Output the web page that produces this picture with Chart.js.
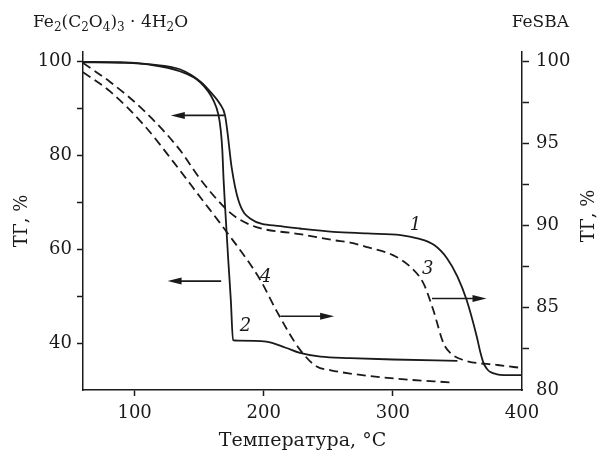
<!DOCTYPE html>
<html>
<head>
<meta charset="utf-8">
<script src="https://cdn.jsdelivr.net/npm/chart.js@4.4.1/dist/chart.umd.min.js"></script>
<style>
  body { margin: 0; background: #fff; }
</style>
</head>
<body>
<canvas id="tgChart" width="600" height="453"></canvas>
<script>
// curve 1 - FeSBA, solid (right axis)
const temp1 = [60, 89, 112, 135, 151, 159, 166, 170, 172, 175, 180.5, 190, 213, 228, 254, 280, 306, 319, 332, 342, 350, 357, 365, 367.7, 370.3, 372.9, 375.5, 380.7, 386, 400];
const tg1 = [99.95, 99.93, 99.8, 99.5, 98.75, 98.1, 97.4, 96.7, 95.6, 93.6, 91.5, 90.4, 89.96, 89.82, 89.62, 89.52, 89.42, 89.22, 88.81, 88.0, 86.9, 85.5, 83.24, 82.31, 81.62, 81.28, 81.09, 80.95, 80.91, 80.9];

// curve 2 - Fe oxalate, solid (left axis)
const temp2 = [60, 89, 112, 135, 151, 161, 165, 166.7, 167.9, 168.9, 170.2, 172.5, 174.5, 176.2, 180, 202, 217, 228, 244, 267, 300, 350];
const tg2 = [99.8, 99.7, 99.3, 97.9, 95.5, 91.7, 88.5, 85.3, 81.1, 74.7, 68.3, 57.7, 49.1, 40.6, 40.5, 40.3, 39.0, 37.9, 37.1, 36.8, 36.5, 36.2];

// curve 3 - FeSBA, dashed (right axis)
const temp3 = [60, 81, 107, 135, 151, 171.5, 182, 197, 228, 254, 267, 280, 300, 313.5, 323.6, 331.3, 339.1, 344.5, 354.6, 381, 400];
const tg3 = [99.88, 98.73, 97.0, 94.6, 92.8, 90.95, 90.33, 89.84, 89.48, 89.11, 88.96, 88.69, 88.2, 87.49, 86.5, 84.86, 82.86, 82.25, 81.82, 81.52, 81.34];

// curve 4 - Fe oxalate, dashed (left axis)
const temp4 = [60, 81, 107, 130, 151, 169, 197, 210, 228, 241, 252, 267, 303, 346];
const tg4 = [97.7, 93.6, 86.5, 78.6, 71.0, 64.5, 53.6, 46.8, 38.6, 35.0, 34.2, 33.5, 32.4, 31.6];

const xTicks = [100, 200, 300, 400];
const leftTicks = [40, 50, 60, 70, 80, 90, 100];
const rightTicks = [80, 82.5, 85, 87.5, 90, 92.5, 95, 97.5, 100];

// annotations, in temperature / left axis units
const arrows = [[169.6, 128, 88.5], [167, 125.5, 53.2], [213, 254.5, 45.7], [330.3, 372.5, 49.5]];
const curveLabels = [["1", 317.5, 65], ["2", 185.8, 43.5], ["3", 326.9, 55.7], ["4", 201.5, 54.1]];

const ink = "#1a1a1a";
const serif = "'DejaVu Serif', serif";

const ctx = document.getElementById("tgChart").getContext("2d");

function pts(t, v) {
    return t.map((x, i) => ({ x: x, y: v[i] }));
}

function curve(t, v, axis, dashed) {
    return {
        data: pts(t, v),
        yAxisID: axis,
        borderColor: ink,
        borderWidth: 1.8,
        borderDash: dashed ? [9, 5] : [],
        pointRadius: 0,
        fill: false,
        cubicInterpolationMode: "monotone",
    };
}

const extras = {
    id: "extras",
    afterDatasetsDraw(chart) {
        const c = chart.ctx;
        const xs = chart.scales.x;
        const ys = chart.scales.y;
        c.save();
        c.strokeStyle = ink;
        c.fillStyle = ink;
        c.lineWidth = 1.6;
        arrows.forEach(a => {
            const x1 = xs.getPixelForValue(a[0]);
            const x2 = xs.getPixelForValue(a[1]);
            const y = ys.getPixelForValue(a[2]);
            const dir = x2 > x1 ? 1 : -1;
            c.beginPath();
            c.moveTo(x1, y);
            c.lineTo(x2 - dir * 8, y);
            c.stroke();
            c.beginPath();
            c.moveTo(x2, y);
            c.lineTo(x2 - dir * 14, y - 3.5);
            c.lineTo(x2 - dir * 14, y + 3.5);
            c.closePath();
            c.fill();
        });

        c.font = "italic 18px " + serif;
        c.textAlign = "center";
        c.textBaseline = "middle";
        curveLabels.forEach(l => {
            c.fillText(l[0], xs.getPixelForValue(l[1]), ys.getPixelForValue(l[2]));
        });

        // headers
        c.textBaseline = "alphabetic";
        c.textAlign = "left";
        const parts = [["Fe", 0], ["2", 1], ["(C", 0], ["2", 1], ["O", 0], ["4", 1], [")", 0], ["3", 1], [" · 4H", 0], ["2", 1], ["O", 0]];
        let px = 33;
        parts.forEach(p => {
            c.font = p[1] ? "12px " + serif : "17px " + serif;
            c.fillText(p[0], px, p[1] ? 31 : 27);
            px += c.measureText(p[0]).width;
        });
        c.font = "17px " + serif;
        c.textAlign = "right";
        c.fillText("FeSBA", 569, 27);

        // right axis title reads bottom-to-top like the left one
        c.font = "18px " + serif;
        c.translate(589, 216);
        c.rotate(-Math.PI / 2);
        c.textAlign = "center";
        c.textBaseline = "middle";
        c.fillText("ТГ, %", 0, 0);
        c.restore();
    },
};

const data = {
    datasets: [
        curve(temp1, tg1, "y1", false),
        curve(temp2, tg2, "y", false),
        curve(temp3, tg3, "y1", true),
        curve(temp4, tg4, "y", true),
    ],
};

const config = {
    type: "line",
    data: data,
    plugins: [extras],
    options: {
        responsive: false,
        animation: false,
        layout: { padding: { top: 52, left: 0, right: 0, bottom: 0 } },
        plugins: { legend: { display: false }, tooltip: { enabled: false } },
        scales: {
            x: {
                type: "linear",
                min: 60,
                max: 400,
                afterBuildTicks: s => { s.ticks = xTicks.map(v => ({ value: v })); },
                afterFit: s => { s.height = 63; },
                border: { color: ink, width: 1.5 },
                grid: {
                    drawOnChartArea: false,
                    tickLength: 6,
                    tickWidth: 1.5,
                    tickColor: c => (c.tick && c.tick.value === 400 ? "transparent" : ink),
                },
                ticks: { color: ink, font: { family: serif, size: 18 }, padding: 7, autoSkip: false, maxRotation: 0 },
                title: {
                    display: true,
                    text: "Температура, °C",
                    color: ink,
                    font: { family: serif, size: 19 },
                    padding: { top: 0, bottom: 1 },
                },
            },
            y: {
                position: "left",
                min: 30,
                max: 102,
                afterBuildTicks: s => { s.ticks = leftTicks.map(v => ({ value: v })); },
                afterFit: s => { s.width = 83; },
                border: { color: ink, width: 1.5 },
                grid: { drawOnChartArea: false, tickLength: 6, tickWidth: 1.5, tickColor: ink },
                ticks: {
                    color: ink,
                    font: { family: serif, size: 18 },
                    padding: 5,
                    autoSkip: false,
                    callback: v => (v % 20 === 0 ? v : ""),
                },
                title: {
                    display: true,
                    text: "ТГ, %",
                    color: ink,
                    font: { family: serif, size: 18 },
                    padding: { top: 12, bottom: 0 },
                },
            },
            y1: {
                position: "right",
                min: 80,
                max: 100.55,
                afterBuildTicks: s => { s.ticks = rightTicks.map(v => ({ value: v })); },
                afterFit: s => { s.width = 78; },
                border: { color: ink, width: 1.5 },
                grid: {
                    drawOnChartArea: false,
                    tickLength: 7,
                    tickWidth: 1.5,
                    tickColor: c => (c.tick && c.tick.value === 80 ? "transparent" : ink),
                },
                ticks: {
                    color: ink,
                    font: { family: serif, size: 18 },
                    padding: 7,
                    autoSkip: false,
                    callback: v => (v % 5 === 0 ? v : ""),
                },
            },
        },
    },
};

const tgChart = new Chart(ctx, config);
</script>
</body>
</html>
